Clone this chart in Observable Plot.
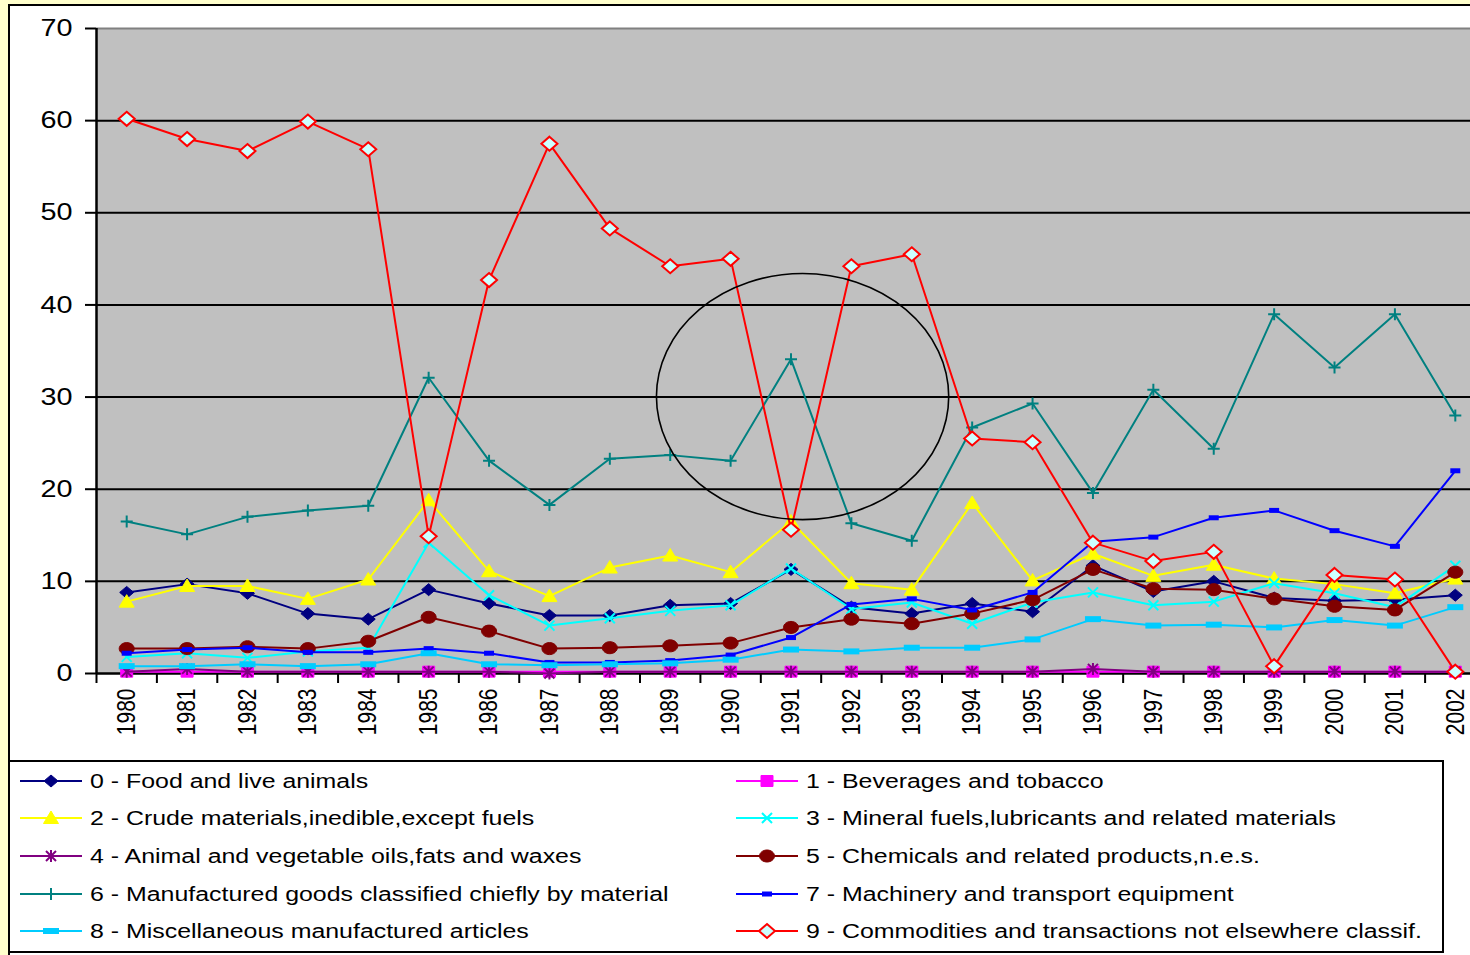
<!DOCTYPE html>
<html>
<head>
<meta charset="utf-8">
<script src="https://cdn.jsdelivr.net/npm/d3@7"></script>
<script src="https://cdn.jsdelivr.net/npm/@observablehq/plot@0.6"></script>
<style>
  html, body { margin: 0; padding: 0; width: 1470px; height: 955px; overflow: hidden; background: #ffffcc; }
  #panel { position: absolute; left: 8px; top: 4px; width: 1540px; height: 1000px; background: #fff; border: 2px solid #000; box-sizing: border-box; }
  #chart { position: absolute; left: 0; top: 0; }
  #legend { position: absolute; left: 8px; top: 760px; width: 1436px; height: 193px; background: #fff; border: 2px solid #000; box-sizing: border-box; font-family: "Liberation Sans", Arial, sans-serif; color: #000; }
  .item { position: absolute; height: 30px; display: flex; align-items: center; }
  .item svg { display: block; flex: none; }
  .item span { display: inline-block; font-size: 20px; white-space: nowrap; transform: scaleX(1.245); transform-origin: left center; }
</style>
</head>
<body>
<div id="panel"></div>
<div id="chart"></div>
<div id="legend"></div>
<script>
// Share of exports by SITC section, 1980–2002 (%)
const years = [1980, 1981, 1982, 1983, 1984, 1985, 1986, 1987, 1988, 1989, 1990, 1991,
               1992, 1993, 1994, 1995, 1996, 1997, 1998, 1999, 2000, 2001, 2002];

const food         = [8.8, 9.7, 8.7, 6.5, 5.9, 9.1, 7.6, 6.3, 6.3, 7.4, 7.6, 11.3, 7.2, 6.5, 7.6, 6.7, 11.7, 8.9, 10.0, 8.2, 7.9, 8.0, 8.5];
const beverages    = [0.2, 0.2, 0.2, 0.2, 0.2, 0.2, 0.2, 0.2, 0.2, 0.2, 0.2, 0.2, 0.2, 0.2, 0.2, 0.2, 0.2, 0.2, 0.2, 0.2, 0.2, 0.2, 0.2];
const crude        = [7.8, 9.5, 9.5, 8.1, 10.2, 18.8, 11.1, 8.4, 11.5, 12.8, 11.0, 16.5, 9.8, 9.1, 18.5, 10.1, 13.0, 10.6, 11.8, 10.3, 9.7, 8.7, 10.3];
const mineral      = [1.8, 2.2, 1.7, 2.4, 2.8, 14.2, 8.5, 5.2, 6.0, 6.8, 7.4, 11.4, 7.0, 7.7, 5.4, 7.7, 8.8, 7.4, 7.8, 9.8, 8.7, 7.2, 11.7];
const oils         = [0.2, 0.5, 0.2, 0.2, 0.2, 0.2, 0.2, 0.0, 0.2, 0.2, 0.2, 0.2, 0.2, 0.2, 0.2, 0.2, 0.5, 0.2, 0.2, 0.2, 0.2, 0.2, 0.2];
const chemicals    = [2.7, 2.7, 2.9, 2.7, 3.5, 6.1, 4.6, 2.7, 2.8, 3.0, 3.3, 5.0, 5.9, 5.4, 6.5, 8.0, 11.3, 9.2, 9.1, 8.1, 7.3, 6.9, 11.0];
const manufactured = [16.5, 15.1, 17.0, 17.7, 18.2, 32.1, 23.1, 18.3, 23.3, 23.7, 23.1, 34.1, 16.3, 14.4, 26.7, 29.3, 19.6, 30.8, 24.4, 39.0, 33.2, 39.0, 28.0];
const machinery    = [2.2, 2.6, 2.8, 2.3, 2.3, 2.7, 2.2, 1.2, 1.2, 1.4, 2.0, 3.9, 7.5, 8.1, 6.9, 8.8, 14.3, 14.8, 16.9, 17.7, 15.5, 13.8, 22.0];
const misc         = [0.8, 0.8, 1.0, 0.8, 1.0, 2.2, 1.0, 0.9, 1.0, 1.1, 1.5, 2.6, 2.4, 2.8, 2.8, 3.7, 5.9, 5.2, 5.3, 5.0, 5.8, 5.2, 7.2];
const commodities  = [60.2, 58.0, 56.7, 59.9, 56.9, 14.9, 42.7, 57.5, 48.3, 44.2, 45.0, 15.6, 44.2, 45.5, 25.5, 25.1, 14.2, 12.2, 13.2, 0.8, 10.7, 10.2, 0.2];

const seriesNames = [
  "0 - Food and live animals",
  "1 - Beverages and tobacco",
  "2 - Crude materials,inedible,except fuels",
  "3 - Mineral fuels,lubricants and related materials",
  "4 - Animal and vegetable oils,fats and waxes",
  "5 - Chemicals and related products,n.e.s.",
  "6 - Manufactured goods classified chiefly by material",
  "7 - Machinery and transport equipment",
  "8 - Miscellaneous manufactured articles",
  "9 - Commodities and transactions not elsewhere classif."
];
const seriesValues = [food, beverages, crude, mineral, oils, chemicals, manufactured, machinery, misc, commodities];

const yTicks = [0, 10, 20, 30, 40, 50, 60, 70];
const gridValues = [10, 20, 30, 40, 50, 60];

// Circled region (centre year/value and half-extents in data units)
const highlight = { year: 1991.2, value: 30.0, halfYears: 2.42, halfValue: 13.35 };

// Elliptical outline drawn with four cubic Béziers
function ovalPath(c, rx, ry) {
  const k = 0.5523;
  c.moveTo(rx, 0);
  c.bezierCurveTo(rx, ry * k, rx * k, ry, 0, ry);
  c.bezierCurveTo(-rx * k, ry, -rx, ry * k, -rx, 0);
  c.bezierCurveTo(-rx, -ry * k, -rx * k, -ry, 0, -ry);
  c.bezierCurveTo(rx * k, -ry, rx, -ry * k, rx, 0);
  c.closePath();
}

// Marker shapes (fixed pixel geometry)
const shapes = {
  diamond:  { draw(c) { c.moveTo(0, -6); c.lineTo(7, 0); c.lineTo(0, 6); c.lineTo(-7, 0); c.closePath(); } },
  square:   { draw(c) { c.rect(-6, -5.5, 12, 11); } },
  triangle: { draw(c) { c.moveTo(0, -7); c.lineTo(7.5, 5.5); c.lineTo(-7.5, 5.5); c.closePath(); } },
  times:    { draw(c) { c.moveTo(-5, -5); c.lineTo(5, 5); c.moveTo(5, -5); c.lineTo(-5, 5); } },
  asterisk: { draw(c) { c.moveTo(-5, -5); c.lineTo(5, 5); c.moveTo(5, -5); c.lineTo(-5, 5); c.moveTo(0, -6); c.lineTo(0, 6); } },
  circle:   { draw(c) { ovalPath(c, 7.5, 6); } },
  plus:     { draw(c) { c.moveTo(-6, 0); c.lineTo(6, 0); c.moveTo(0, -6); c.lineTo(0, 6); } },
  dashS:    { draw(c) { c.rect(-5, -2.5, 10, 5); } },
  dashL:    { draw(c) { c.rect(-8, -3, 16, 6); } },
  diamondO: { draw(c) { c.moveTo(0, -7); c.lineTo(8, 0); c.lineTo(0, 7); c.lineTo(-8, 0); c.closePath(); } }
};

const styles = [
  { color: "#000080", shape: shapes.diamond,  fill: "#000080", stroke: "#000080", sw: 1 },
  { color: "#ff00ff", shape: shapes.square,   fill: "#ff00ff", stroke: "#ff00ff", sw: 1 },
  { color: "#ffff00", shape: shapes.triangle, fill: "#ffff00", stroke: "#ffff00", sw: 1 },
  { color: "#00ffff", shape: shapes.times,    fill: "none",    stroke: "#00ffff", sw: 2 },
  { color: "#800080", shape: shapes.asterisk, fill: "none",    stroke: "#800080", sw: 2 },
  { color: "#800000", shape: shapes.circle,   fill: "#800000", stroke: "#800000", sw: 1 },
  { color: "#008080", shape: shapes.plus,     fill: "none",    stroke: "#008080", sw: 2 },
  { color: "#0000ff", shape: shapes.dashS,    fill: "#0000ff", stroke: "none",    sw: 0 },
  { color: "#00ccff", shape: shapes.dashL,    fill: "#00ccff", stroke: "none",    sw: 0 },
  { color: "#ff0000", shape: shapes.diamondO, fill: "#ccffff", stroke: "#ff0000", sw: 2 }
];

// Long table: one row per series and year
const rows = seriesValues.flatMap((vals, s) => years.map((year, i) => ({ s, year, value: vals[i] })));
const boundaries = [...years.map(y => y - 0.5), years[years.length - 1] + 0.5];

function ellipseMark(index, scales) {
  const { x, y } = scales;
  const cx = x(highlight.year), cy = y(highlight.value);
  const rx = x(highlight.year + highlight.halfYears) - cx;
  const ry = cy - y(highlight.value + highlight.halfValue);
  const el = document.createElementNS("http://www.w3.org/2000/svg", "ellipse");
  el.setAttribute("cx", cx); el.setAttribute("cy", cy);
  el.setAttribute("rx", rx); el.setAttribute("ry", ry);
  el.setAttribute("fill", "none"); el.setAttribute("stroke", "#000"); el.setAttribute("stroke-width", 1.6);
  return el;
}

const seriesMarks = styles.flatMap((st, s) => {
  const data = rows.filter(d => d.s === s);
  return [
    Plot.line(data, { x: "year", y: "value", stroke: st.color, strokeWidth: 2 }),
    Plot.dot(data, { x: "year", y: "value", symbol: st.shape, fill: st.fill, stroke: st.stroke, strokeWidth: st.sw })
  ];
});

const chart = Plot.plot({
  width: 1490,
  height: 750,
  marginLeft: 96,
  marginRight: 5,
  marginTop: 28,
  marginBottom: 77,
  x: { type: "linear", domain: [boundaries[0], boundaries[boundaries.length - 1]] },
  y: { domain: [yTicks[0], yTicks[yTicks.length - 1]] },
  style: { background: "transparent", maxWidth: "none", overflow: "visible", fontFamily: "'Liberation Sans', Arial, sans-serif", color: "#000" },
  marks: [
    Plot.frame({ fill: "#c0c0c0", stroke: "none" }),
    Plot.ruleY(gridValues, { stroke: "#000", strokeWidth: 2 }),
    Plot.ruleY([yTicks[yTicks.length - 1]], { stroke: "#808080", strokeWidth: 2 }),
    Plot.ruleY([0], { stroke: "#000", strokeWidth: 2.5 }),
    Plot.ruleX([boundaries[0]], { stroke: "#000", strokeWidth: 2.5 }),
    Plot.axisY({ ticks: yTicks, tickSize: 11, tickPadding: 13, strokeWidth: 2, fontSize: 24, label: null, tickFormat: d => String(d) }),
    Plot.axisX({ ticks: boundaries, tickSize: 10, strokeWidth: 2, label: null, tickFormat: () => "" }),
    Plot.axisX({ ticks: years, tickSize: 0, tickPadding: 15, tickRotate: -90, fontSize: 21, label: null, tickFormat: d => String(d) }),
    ...seriesMarks,
    ellipseMark
  ]
});

document.getElementById("chart").appendChild(chart);

// Widen the tick-label glyphs horizontally around their anchors
chart.querySelectorAll('g[aria-label="y-axis tick label"] text').forEach(t => {
  const b = t.getBBox();
  const ax = b.x + b.width;
  t.setAttribute("transform", `${t.getAttribute("transform") || ""} translate(${ax},0) scale(1.2,1) translate(${-ax},0)`);
});
chart.querySelectorAll('g[aria-label="x-axis tick label"] text').forEach(t => {
  if (!t.textContent) return;
  const b = t.getBBox();
  const cy = b.y + b.height / 2;
  t.setAttribute("transform", `${t.getAttribute("transform") || ""} translate(0,${cy}) scale(1,1.2) translate(0,${-cy})`);
});

// Legend: two columns, five rows
const legend = document.getElementById("legend");
const rowCentres = [19, 56, 94, 132, 169];
const colLefts = [9, 725];
seriesNames.forEach((name, s) => {
  const st = styles[s];
  const item = document.createElement("div");
  item.className = "item";
  item.style.left = colLefts[s % 2] + "px";
  item.style.top = (rowCentres[Math.floor(s / 2)] - 15) + "px";
  const p = d3.path();
  st.shape.draw(p);
  item.innerHTML =
    `<svg width="71" height="30" viewBox="0 0 71 30">
       <line x1="1" x2="63" y1="15" y2="15" stroke="${st.color}" stroke-width="2"/>
       <path transform="translate(32,15)" d="${p}" fill="${st.fill}" stroke="${st.stroke}" stroke-width="${st.sw}"/>
     </svg><span>${name}</span>`;
  legend.appendChild(item);
});
</script>
</body>
</html>
